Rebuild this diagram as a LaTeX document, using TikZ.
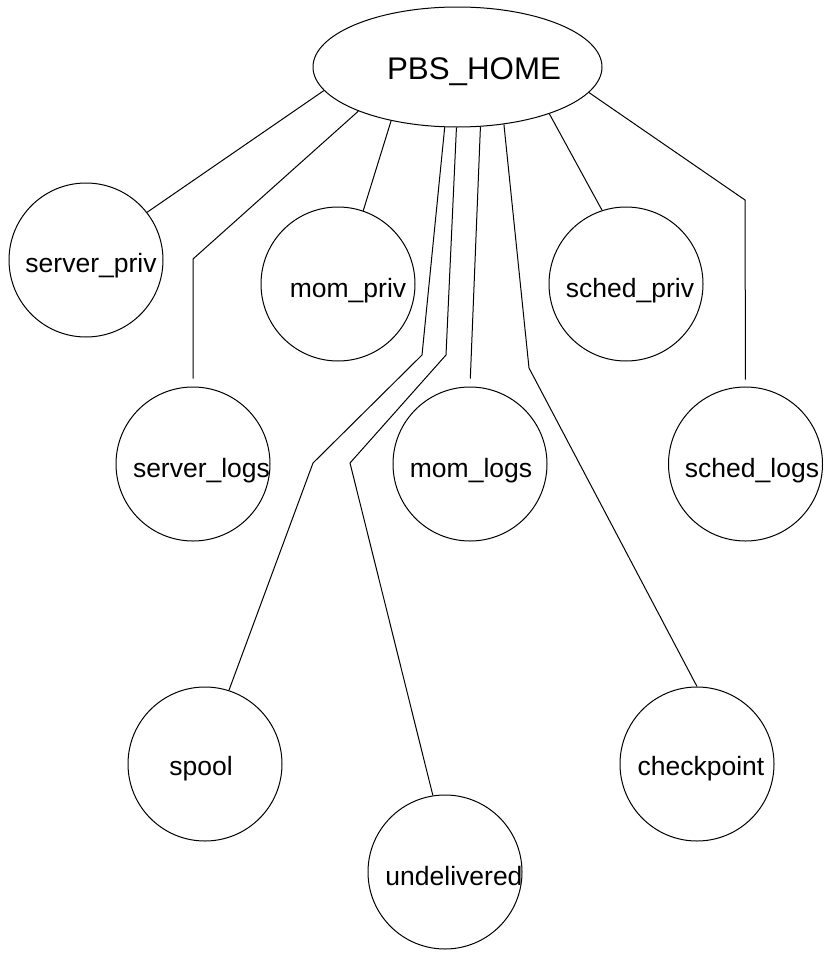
\documentclass[tikz,border=0pt]{standalone}
\usepackage{fontspec}
\setmainfont{Liberation Sans}
\usetikzlibrary{shapes,positioning}
\tikzset{
    % Define directory node styles
    dirbox/.style={
        circle, draw=black, line width=1pt,
        minimum size=154pt, inner sep=0pt
    },
    rootbox/.style={
        ellipse, draw=black, line width=1pt,
        minimum width=289pt, minimum height=120pt, inner sep=0pt
    },
    dirlabel/.style={
        anchor=base, inner sep=0pt,
        font=\fontsize{26.5}{30}\selectfont
    },
    rootlabel/.style={
        anchor=base, inner sep=0pt,
        font=\fontsize{31.3}{36}\selectfont
    },
    link/.style={
        line width=1pt, color=black
    }
}
\begin{document}
\begin{tikzpicture}[x=1pt, y=-1pt]
\useasboundingbox (0,0) rectangle (827,953);

% Root directory
\node[rootbox] (pbs_home) at (457.5,67) {};
\node[rootlabel] (pbs_home_txt) at (474,79) {PBS\_HOME};

% First row
\node[dirbox] (server_priv) at (86,260) {};
\node[dirlabel] (server_priv_txt) at (91,272) {server\_priv};
\node[dirbox] (mom_priv) at (338,284) {};
\node[dirlabel] (mom_priv_txt) at (348,297) {mom\_priv};
\node[dirbox] (sched_priv) at (626,284) {};
\node[dirlabel] (sched_priv_txt) at (630,297) {sched\_priv};

% Second row
\node[dirbox] (server_logs) at (193,464) {};
\node[dirlabel] (server_logs_txt) at (201.5,477) {server\_logs};
\node[dirbox] (mom_logs) at (470,464) {};
\node[dirlabel] (mom_logs_txt) at (471,477) {mom\_logs};
\node[dirbox] (sched_logs) at (745.5,464) {};
\node[dirlabel] (sched_logs_txt) at (752,477) {sched\_logs};

% Bottom row
\node[dirbox] (spool) at (205,764) {};
\node[dirlabel] (spool_txt) at (201,775) {spool};
\node[dirbox] (undelivered) at (445,872) {};
\node[dirlabel] (undelivered_txt) at (454,885) {undelivered};
\node[dirbox] (checkpoint) at (697,764) {};
\node[dirlabel] (checkpoint_txt) at (701,775) {checkpoint};

% Links from PBS_HOME
\draw[link] (pbs_home.190.7) -- (server_priv.38.8);
\draw[link, shorten >=8pt] (pbs_home.204.5) -- (193,259) -- (server_logs.north);
\draw[link] (pbs_home.219.5) -- (mom_priv.71.8);
\draw[link] (pbs_home.258.4) -- (422,355) -- (313,463) -- (spool.72);
\draw[link] (pbs_home.269.5) -- (446,355) -- (350,463) -- (undelivered.99.5);
\draw[link, shorten >=8pt] (pbs_home.291.9) -- (mom_logs.north);
\draw[link] (pbs_home.309.1) -- (529,368) -- (checkpoint.north);
\draw[link] (pbs_home.333.3) -- (sched_priv.108.9);
\draw[link, shorten >=7pt] (pbs_home.349.3) -- (745,200) -- (sched_logs.north);

\end{tikzpicture}
\end{document}
